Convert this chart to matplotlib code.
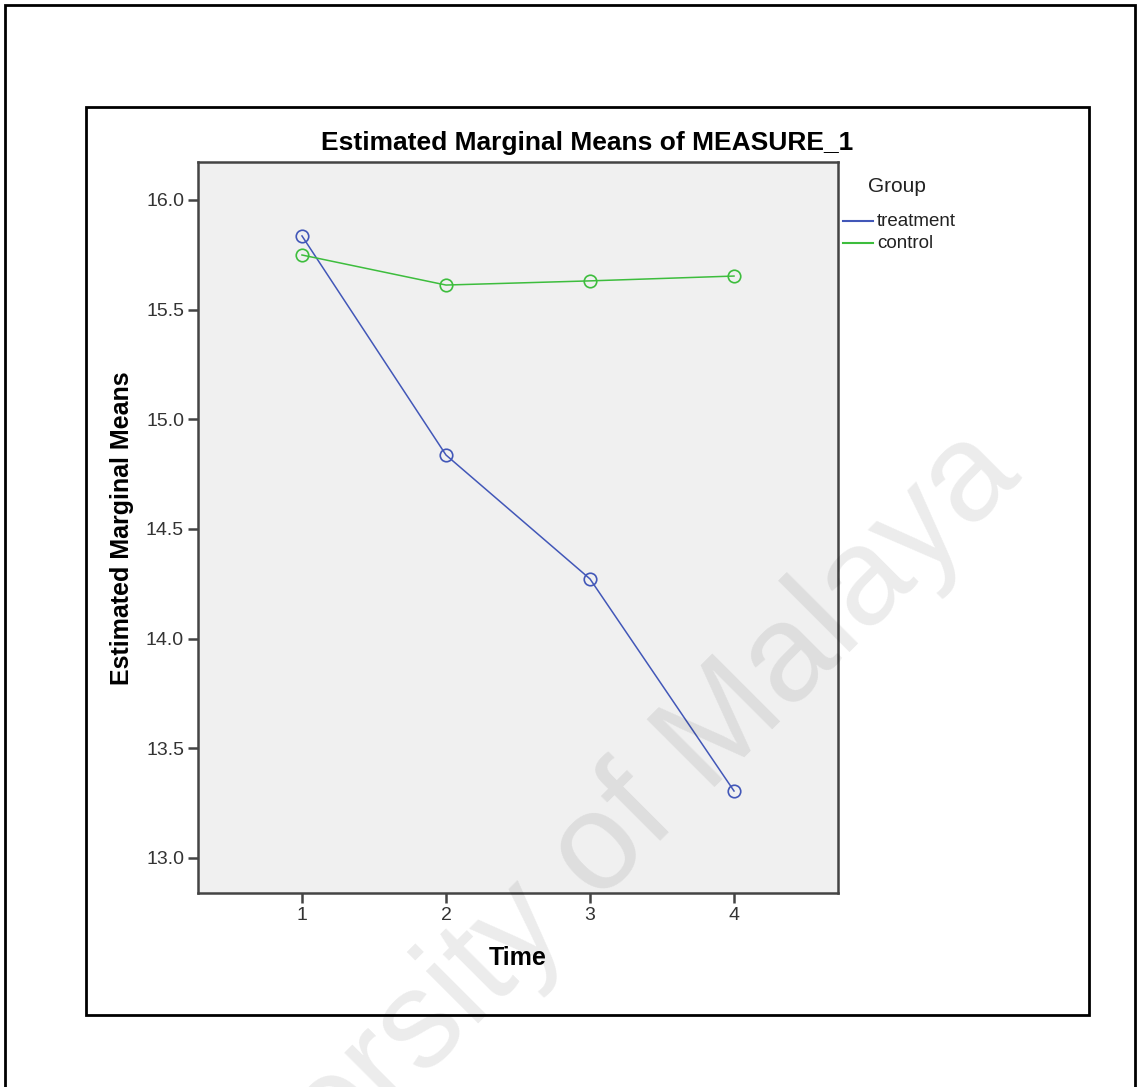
import matplotlib
matplotlib.use("Agg")
import matplotlib.pyplot as plt
from matplotlib.patches import Rectangle
from matplotlib.lines import Line2D

# ---- data ----
time_points = [1, 2, 3, 4]
treatment = [15.836, 14.837, 14.272, 13.305]
control = [15.749, 15.612, 15.631, 15.653]
y_ticks = [13.0, 13.5, 14.0, 14.5, 15.0, 15.5, 16.0]
x_ticks = [1, 2, 3, 4]
groups = ["treatment", "control"]

plt.rcParams["font.family"] = ["Liberation Sans", "DejaVu Sans"]

W, H = 1138, 1087
fig = plt.figure(figsize=(W / 100, H / 100), dpi=100)
fig.patch.set_facecolor("white")

def fx(px):
    return px / W

def fy(py):
    return 1 - py / H

# outer frame (its bottom edge lies below the picture)
fig.patches.append(Rectangle((fx(5), -0.1), fx(1130), fy(5) + 0.1,
                             transform=fig.transFigure, fill=False, lw=2, ec="black"))
# inner frame
fig.patches.append(Rectangle((fx(86), fy(1015)), fx(1089 - 86), (1015 - 107) / H,
                             transform=fig.transFigure, fill=False, lw=2, ec="black"))

ax = fig.add_axes([fx(198), fy(893), fx(838 - 198), (893 - 162) / H])
ax.set_facecolor("#f0f0f0")
blue = "#4257b8"
green = "#3dbd3d"
ax.plot(time_points, treatment, color=blue, lw=1.1, marker="o", ms=9,
        mfc="none", mec=blue, mew=1.2)
ax.plot(time_points, control, color=green, lw=1.1, marker="o", ms=9,
        mfc="none", mec=green, mew=1.2)

ax.set_xlim(0.278, 4.722)
ax.set_ylim(12.84, 16.173)
ax.set_xticks(x_ticks)
ax.set_xticklabels([str(v) for v in x_ticks])
ax.set_yticks(y_ticks)
ax.set_yticklabels([f"{v:.1f}" for v in y_ticks])
for s in ax.spines.values():
    s.set_color("#444444")
    s.set_linewidth(1.8)
ax.tick_params(axis="both", direction="out", length=7, width=1.8, color="#444444",
               labelsize=14, labelcolor="#333333", pad=3)

fig.text(fx(587), fy(143), "Estimated Marginal Means of MEASURE_1", ha="center",
         va="center", fontsize=19, fontweight="bold")
fig.text(fx(122), fy(528), "Estimated Marginal Means", ha="center", va="center",
         rotation=90, fontsize=18, fontweight="bold")
fig.text(fx(518), fy(958), "Time", ha="center", va="center", fontsize=18,
         fontweight="bold")

# legend
fig.text(fx(868), fy(187), "Group", ha="left", va="center", fontsize=15, color="#222222")
for i, (g, c) in enumerate(zip(groups, [blue, green])):
    yy = fy(221 + 22 * i)
    fig.lines.append(Line2D([fx(843), fx(873)], [yy, yy], transform=fig.transFigure,
                            color=c, lw=1.5))
    fig.text(fx(877), yy, g, ha="left", va="center", fontsize=13.5, color="#222222")

# watermark
fig.text(fx(1024), fy(478), "University of Malaya", ha="right", va="baseline",
         rotation=45, rotation_mode="anchor", fontsize=100, color="black",
         alpha=0.08, zorder=10, family="Liberation Sans")

fig.savefig("out.png", dpi=100)
